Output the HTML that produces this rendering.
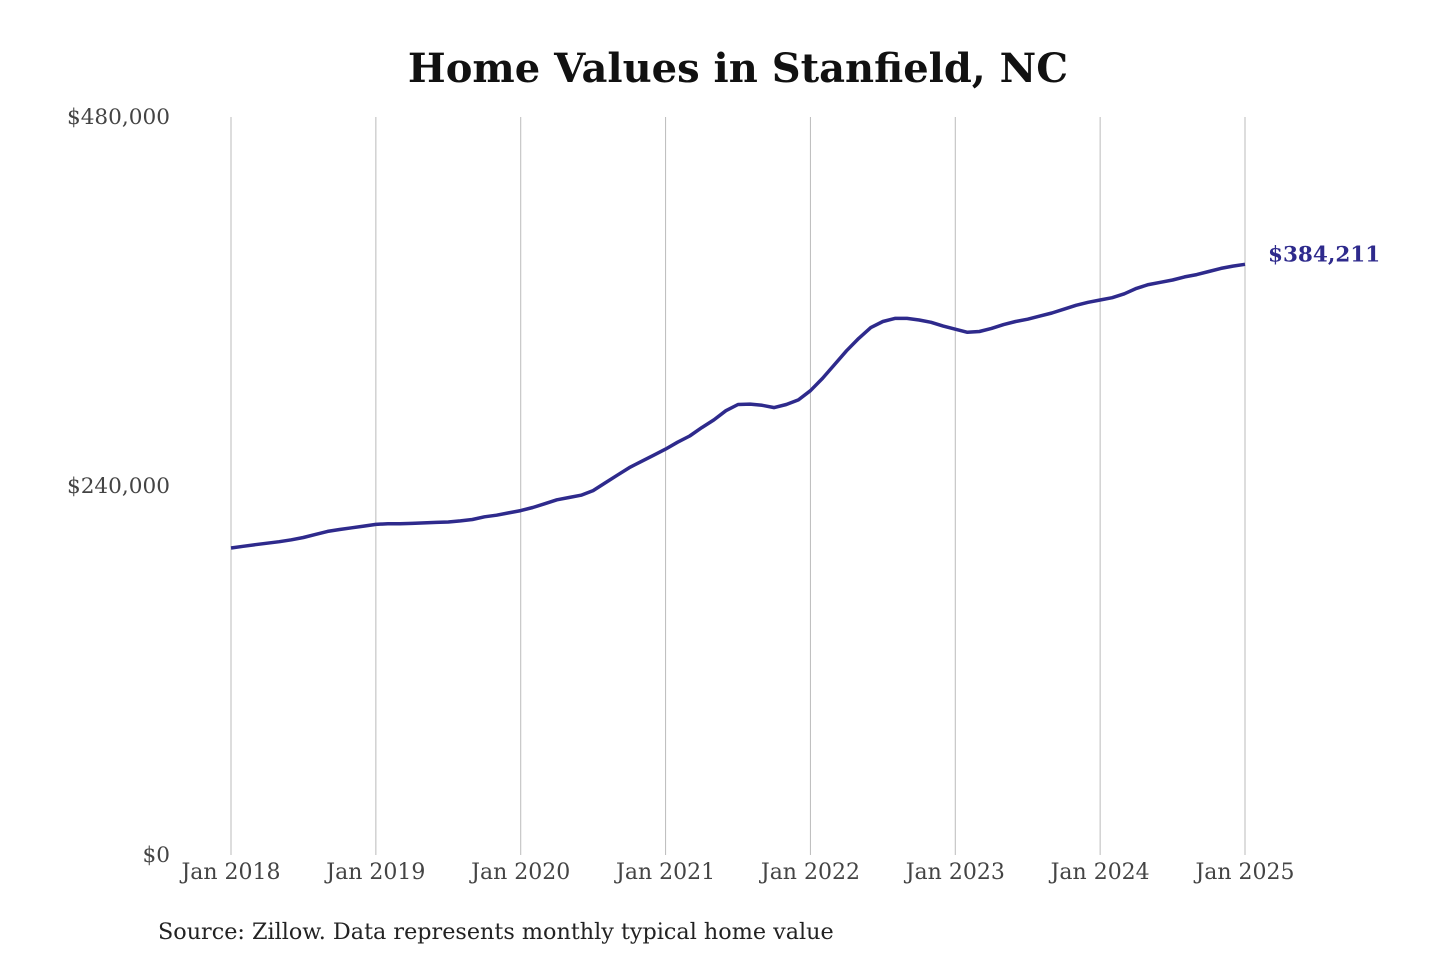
<!DOCTYPE html>
<html><head><meta charset="utf-8"><style>
html,body{margin:0;padding:0;background:#fff;}
svg text{font-family:"DejaVu Serif","Liberation Serif",serif;}
</style></head><body>
<svg id="chart" width="1440" height="960" xmlns="http://www.w3.org/2000/svg">
<rect width="1440" height="960" fill="#fff"/>
<text x="738" y="82" text-anchor="middle" font-size="40" font-weight="bold" fill="#111">Home Values in Stanfield, NC</text>
<g id="grid"></g><g id="yticks"></g><g id="xticks"></g>
<path id="line" fill="none" stroke="#2e2a8c" stroke-width="3.5" stroke-linejoin="round"/>
<text id="endlabel" font-size="21.5" font-weight="bold" fill="#2e2a8c"></text>
<text x="158" y="939" font-size="22.3" fill="#222">Source: Zillow. Data represents monthly typical home value</text>
</svg>
<script>
const yearLabels=["Jan 2018","Jan 2019","Jan 2020","Jan 2021","Jan 2022","Jan 2023","Jan 2024","Jan 2025"];
const yTicks=[0,240000,480000];
const yTickLabels=["$0","$240,000","$480,000"];
const values=[199.7,200.8,201.8,202.8,203.8,205,206.5,208.5,210.5,211.7,212.8,213.9,
215,215.5,215.5,215.7,216,216.3,216.6,217.3,218.2,220,221,222.5,
224,226,228.5,231,232.5,234,237,242,247,252,256,260,
264,268.5,272.5,278,283,289,293,293.3,292.5,291,293,296,
302,310,319,328,336,343,347,349,349,348,346.5,344,
342,340,340.5,342.5,345,347,348.5,350.5,352.5,355,357.5,359.5,
361,362.5,365,368.5,371,372.5,374,376,377.5,379.5,381.5,383,384.211];
const lastLabel="$384,211";
const NS="http://www.w3.org/2000/svg";
const x=m=>231+m*(1245-231)/84;
const y=v=>855-v*(855-117)/480000;
function mk(t,a,p){const e=document.createElementNS(NS,t);for(const k in a)e.setAttribute(k,a[k]);p.appendChild(e);return e;}
const grid=document.getElementById('grid'),xt=document.getElementById('xticks'),yt=document.getElementById('yticks');
yearLabels.forEach((l,i)=>{
 const g=mk('line',{x1:x(i*12),x2:x(i*12),y1:117,y2:855,stroke:'#bbbbbb','stroke-width':1},grid);
 
 
 const t=mk('text',{x:x(i*12),y:879,'text-anchor':'middle','font-size':22,fill:'#444'},xt);
 t.textContent=l;
 
 
});
yTicks.forEach((v,i)=>{
 const t=mk('text',{x:170,y:y(v)+7,'text-anchor':'end','font-size':21.6,fill:'#444'},yt);
 t.textContent=yTickLabels[i];
 
 
});
document.getElementById('line').setAttribute('d',values.map((v,i)=>(i?'L':'M')+x(i).toFixed(1)+','+y(v*1000).toFixed(1)).join(''));
const el=document.getElementById('endlabel');
el.setAttribute('x',x(values.length-1)+23);
el.setAttribute('y',y(values[values.length-1]*1000)-3);
el.textContent=lastLabel;
</script>
</body></html>
